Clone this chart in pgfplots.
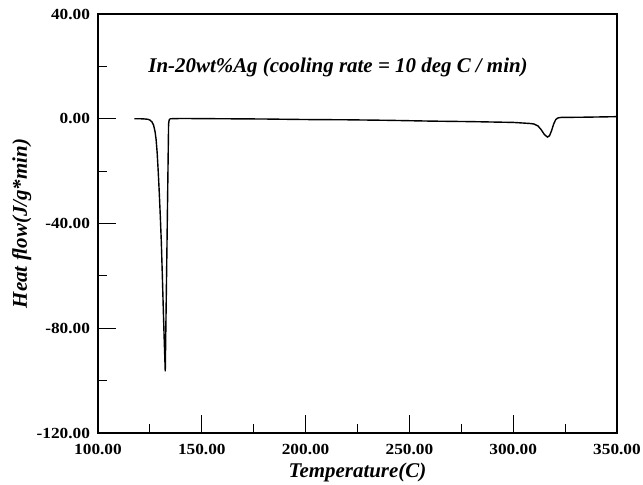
\documentclass[border=0pt]{standalone}
\usepackage{fontspec}
\setmainfont{Liberation Serif}
\newfontfamily\tickfont[FakeStretch=1.12]{Liberation Serif}
\usepackage{pgfplots}
\pgfplotsset{compat=1.18}
\begin{document}
\begin{tikzpicture}[x=1bp,y=1bp]
\begin{axis}[
  at={(0,0)}, anchor=south west,
  scale only axis,
  width=519bp, height=419bp,
  xmin=100, xmax=350, ymin=-120, ymax=40,
  xtick={100,150,...,350}, minor xtick={125,175,...,325},
  ytick={-120,-80,...,40}, minor ytick={-100,-60,...,20},
  tick pos=left, tick align=inside,
  major tick length=18bp, minor tick length=9bp,
  every tick/.style={black, line width=1.2bp},
  axis line style={line width=1.6bp},
  /pgf/number format/assume math mode=true,
  /pgf/number format/.cd, fixed, fixed zerofill, precision=2, /pgfplots/.cd,
  tick label style={font=\tickfont\fontsize{15.5}{16}\bfseries},
  xticklabel style={yshift=-8bp},
  yticklabel style={xshift=-4.5bp},
  xlabel={\fontsize{21}{22}\selectfont\bfseries\itshape Temperature(C)},
  ylabel={\fontsize{21}{22}\selectfont\bfseries\itshape Heat flow(J/g*min)},
  xlabel style={at={(axis description cs:0.5,0)}, anchor=base, yshift=-44bp},
  ylabel style={at={(axis description cs:0,0.5)}, anchor=base, yshift=71bp},
]
\addplot[black, line width=1.4bp] coordinates {
(117.5,0.0) (120,0.0) (122,-0.05) (124,-0.2) (125,-0.5) (126,-1.2) (126.8,-2.5)
(127.5,-5) (128,-8) (128.5,-13) (129,-20) (129.5,-28) (130,-37) (130.5,-47)
(131,-60) (131.5,-74) (132,-87) (132.4,-96.5) (133.2,-50) (134,-2) (134.3,-0.4)
(134.8,0) (140,0.1) (160,0) (180,-0.1) (200,-0.3) (220,-0.4) (240,-0.6)
(260,-0.9) (280,-1.1) (300,-1.4) (308,-1.8) (310,-2.0) (312,-2.8) (313.5,-4.2)
(315,-6.0) (316.5,-7.0) (317.5,-6.5) (318.5,-4.5) (319.5,-2.0) (320.5,-0.3)
(321.5,0.3) (323,0.5) (335,0.6) (350,0.8)
};
\node[anchor=base west, font=\fontsize{21}{22}\selectfont\bfseries\itshape]
  at (axis cs:122.6,17.8) {In-20wt\%Ag (cooling rate = 10 deg C / min)};
\end{axis}
\pgfresetboundingbox
\path (-98bp,-52bp) rectangle (545bp,433bp);
\end{tikzpicture}
\end{document}
